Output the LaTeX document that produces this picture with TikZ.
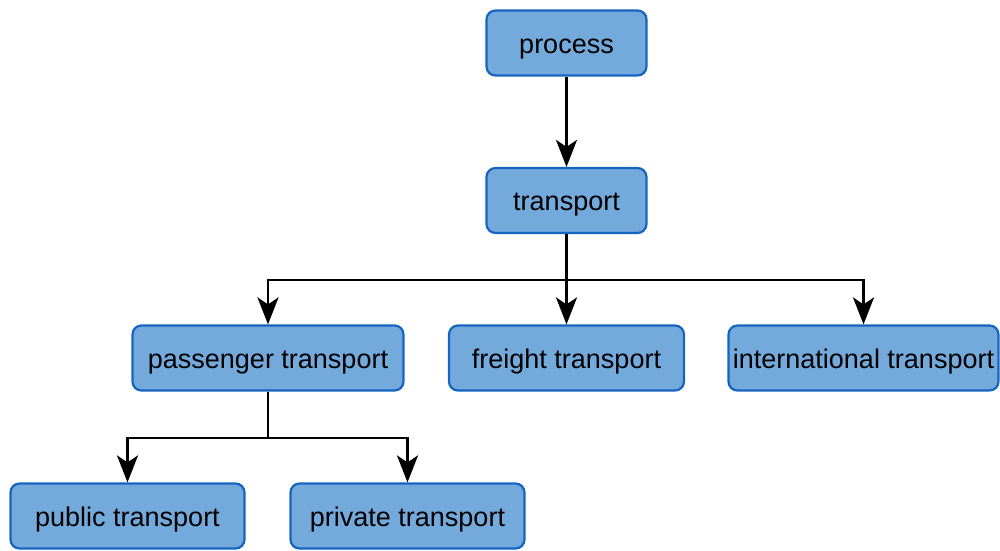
\documentclass[tikz,border=0pt]{standalone}
\usepackage{fontspec}
\setmainfont{Liberation Sans}
\usetikzlibrary{arrows.meta}
\definecolor{boxfill}{HTML}{74A9DB}
\definecolor{boxline}{HTML}{1565C0}
\begin{document}
\begin{tikzpicture}[x=1pt,y=-1pt,
  box/.style={draw=boxline, fill=boxfill, line width=2.2pt, rounded corners=9pt,
    minimum height=65pt, inner sep=0pt, text height=21pt, text depth=1pt,
    font=\fontsize{27}{32}\selectfont},
  link/.style={draw=black, line width=2.6pt,
    -{Stealth[length=27pt,width=21pt,inset=7pt]}}]
\useasboundingbox (0,0) rectangle (1000,550);
\node[box, minimum width=160pt] (proc) at (566.5,43) {process};
\node[box, minimum width=160pt] (trans) at (566.5,200.5) {transport};
\node[box, minimum width=271pt] (pass) at (268,358) {passenger transport};
\node[box, minimum width=235pt] (freight) at (566.5,358) {freight transport};
\node[box, minimum width=270pt] (intl) at (863.5,358) {international transport};
\node[box, minimum width=234pt] (pub) at (127.5,516) {public transport};
\node[box, minimum width=234pt] (priv) at (407.5,516) {private transport};
\coordinate (tj) at (566.5,280);
\coordinate (pj) at (268,438);
\draw[link] (proc) -- (trans);
\draw[link] (trans.south) -- (tj) -| (pass.north);
\draw[link] (trans.south) -- (freight.north);
\draw[link] (trans.south) -- (tj) -| (intl.north);
\draw[link] (pass.south) -- (pj) -| (pub.north);
\draw[link] (pass.south) -- (pj) -| (priv.north);
\end{tikzpicture}
\end{document}
